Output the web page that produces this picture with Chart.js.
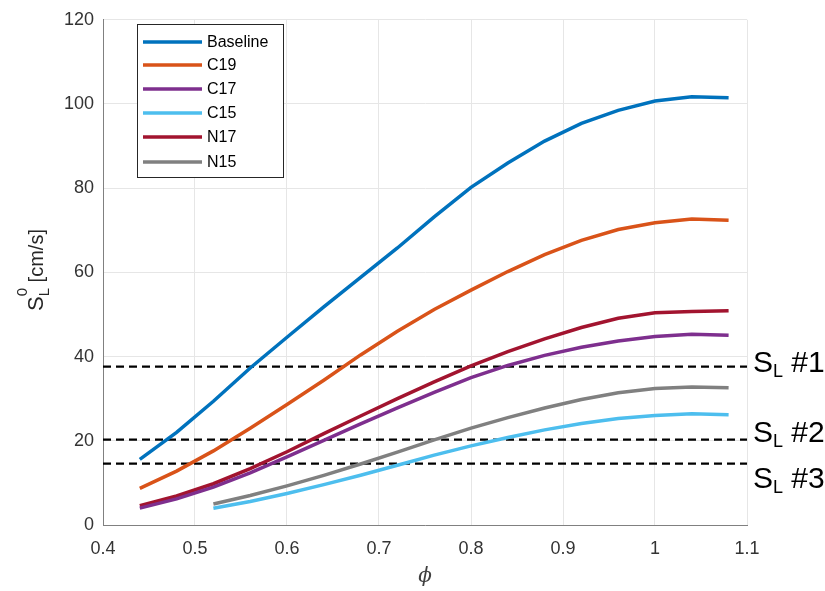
<!DOCTYPE html>
<html><head><meta charset="utf-8">
<script src="https://cdn.jsdelivr.net/npm/chart.js@4/dist/chart.umd.min.js"></script>
<style>html,body{margin:0;padding:0;background:#fff}#wrap{width:825px;height:591px}</style>
</head><body><div id="wrap"><canvas id="c" width="825" height="591"></canvas></div>
<script>
const phiFull = [0.44,0.48,0.52,0.56,0.60,0.64,0.68,0.72,0.76,0.80,0.84,0.88,0.92,0.96,1.00,1.04,1.08];
const phiShort = [0.52,0.56,0.60,0.64,0.68,0.72,0.76,0.80,0.84,0.88,0.92,0.96,1.00,1.04,1.08];
const baseline = [15.6,22.0,29.4,37.3,44.6,51.8,58.8,65.8,73.2,80.2,86.0,91.2,95.4,98.5,100.7,101.7,101.5];
const c19 = [8.7,12.8,17.6,23.0,28.6,34.4,40.4,46.0,51.2,55.8,60.2,64.2,67.6,70.2,71.8,72.7,72.4];
const c17 = [4.0,6.2,9.0,12.4,16.2,20.1,24.0,27.8,31.5,35.0,37.9,40.3,42.2,43.7,44.8,45.3,45.1];
const c15 = [4.0,5.6,7.5,9.6,11.8,14.2,16.6,18.8,20.8,22.6,24.1,25.3,26.0,26.4,26.2];
const n17 = [4.6,6.9,9.8,13.4,17.4,21.7,25.9,30.0,34.0,37.8,41.2,44.2,46.9,49.1,50.4,50.7,50.9];
const n15 = [5.0,7.0,9.3,11.8,14.5,17.3,20.2,23.0,25.5,27.8,29.8,31.4,32.4,32.8,32.6];
const seriesNames = ['Baseline','C19','C17','C15','N17','N15'];
const seriesColors = ['#0072BD','#D95319','#7E2F8E','#4DBEEE','#A2142F','#808080'];
const seriesX = [phiFull, phiFull, phiFull, phiShort, phiFull, phiShort];
const seriesY = [baseline, c19, c17, c15, n17, n15];
const slLevels = [37.6, 20.3, 14.6];
const slNames = ['#1', '#2', '#3'];
const xTicks = [0.4,0.5,0.6,0.7,0.8,0.9,1.0,1.1];
const yTicks = [0,20,40,60,80,100,120];

const datasets = seriesNames.map((n,i)=>({
  label:n, data: seriesX[i].map((x,j)=>({x, y: seriesY[i][j]})),
  borderColor: seriesColors[i], backgroundColor: seriesColors[i],
  borderWidth: 3.5, pointRadius: 0, tension: 0, fill:false
}));
slLevels.forEach((v,i)=>{
  datasets.push({label:'SL'+slNames[i], data:[{x:0.4,y:v},{x:1.1,y:v}], borderColor:'#000',
    borderWidth:2.2, borderDash:[8,5], pointRadius:0, fill:false});
});

const overlay = {
  id:'overlay',
  afterDraw(chart){
    const ctx = chart.ctx, ca = chart.chartArea;
    const ys = chart.scales.y;
    ctx.save();
    const lx=137, ly=24, lw=146, lh=153;
    ctx.fillStyle='#fff'; ctx.fillRect(lx,ly,lw,lh);
    ctx.strokeStyle='#262626'; ctx.lineWidth=1; ctx.strokeRect(lx+0.5,ly+0.5,lw,lh);
    const rows=[42,65,89,113,137,162];
    ctx.font='16px "Liberation Sans", Arial, sans-serif';
    ctx.textBaseline='middle'; ctx.textAlign='left';
    seriesNames.forEach((n,i)=>{
      ctx.strokeStyle=seriesColors[i]; ctx.lineWidth=3.5;
      ctx.beginPath(); ctx.moveTo(143,rows[i]); ctx.lineTo(202,rows[i]); ctx.stroke();
      ctx.fillStyle='#000'; ctx.fillText(n,207,rows[i]+1);
    });
    const offs=[5,2,24];
    slLevels.forEach((v,i)=>{
      const y = ys.getPixelForValue(v)+offs[i];
      let x = 753;
      ctx.fillStyle='#000'; ctx.textBaseline='alphabetic';
      ctx.font='30px "Liberation Sans", Arial, sans-serif';
      ctx.fillText('S',x,y); x+=ctx.measureText('S').width;
      ctx.font='18px "Liberation Sans", Arial, sans-serif';
      ctx.fillText('L',x,y+5); x+=ctx.measureText('L').width;
      ctx.font='30px "Liberation Sans", Arial, sans-serif';
      ctx.fillText(' '+slNames[i],x,y);
    });
    ctx.translate(36,270); ctx.rotate(-Math.PI/2);
    ctx.fillStyle='#262626'; ctx.textBaseline='alphabetic';
    ctx.font='22px "Liberation Sans", Arial, sans-serif';
    const w1=ctx.measureText('S').width;
    ctx.font='15px "Liberation Sans", Arial, sans-serif';
    const w2=Math.max(ctx.measureText('L').width, ctx.measureText('0').width);
    ctx.font='20px "Liberation Sans", Arial, sans-serif';
    const w3=ctx.measureText(' [cm/s]').width;
    let x=-(w1+w2+w3)/2;
    ctx.font='22px "Liberation Sans", Arial, sans-serif'; ctx.fillText('S',x,7); x+=w1;
    ctx.font='15px "Liberation Sans", Arial, sans-serif';
    ctx.fillText('L',x,13); ctx.fillText('0',x,-9); x+=w2;
    ctx.font='20px "Liberation Sans", Arial, sans-serif'; ctx.fillText(' [cm/s]',x,7);
    ctx.restore();
    ctx.save();
    ctx.fillStyle='#404040'; ctx.font='italic 20px "DejaVu Serif", serif';
    ctx.textAlign='center'; ctx.textBaseline='middle';
    ctx.fillText('\u03D5', (ca.left+ca.right)/2, 577);
    ctx.restore();
  }
};

new Chart(document.getElementById('c'), {
  type:'line',
  data:{datasets},
  options:{
    responsive:false, animation:false,
    layout:{padding:{left:0,right:78,top:16,bottom:0}},
    plugins:{legend:{display:false}, tooltip:{enabled:false}},
    scales:{
      x:{type:'linear', min:0.4, max:1.1,
        afterBuildTicks(s){ s.ticks = xTicks.map(v=>({value:v})); },
        afterFit(s){ s.height = 66; },
        ticks:{callback:v=>String(Number(v.toFixed(1))), color:'#333', padding:13,
          font:{family:'"Liberation Sans", Arial, sans-serif', size:18}},
        grid:{color:'#e6e6e6', drawTicks:false},
        border:{color:'#808080', width:1}},
      y:{min:0, max:120,
        afterBuildTicks(s){ s.ticks = yTicks.map(v=>({value:v})); },
        afterFit(s){ s.width = 103; },
        ticks:{color:'#333', padding:9,
          font:{family:'"Liberation Sans", Arial, sans-serif', size:18}},
        grid:{color:'#e6e6e6', drawTicks:false},
        border:{color:'#808080', width:1}}
    }
  },
  plugins:[overlay]
});
</script></body></html>
